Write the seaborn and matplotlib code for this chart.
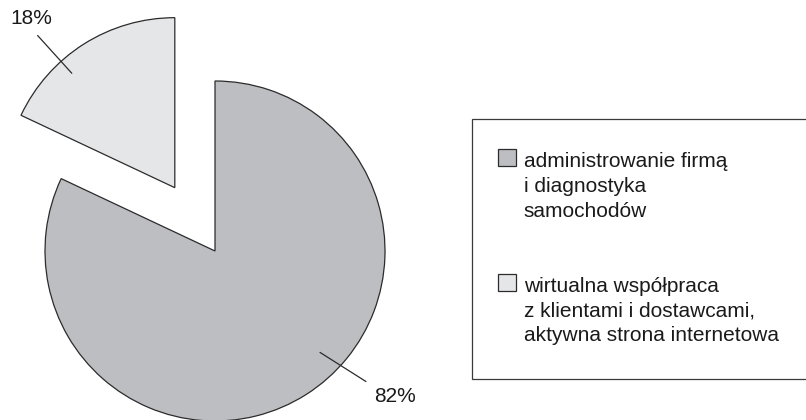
import numpy as np
import seaborn as sns
import matplotlib.pyplot as plt
from matplotlib.patches import Rectangle
from matplotlib.legend_handler import HandlerPatch

# dane
kategorie = ['administrowanie firmą\ni diagnostyka\nsamochodów',
             'wirtualna współpraca\nz klientami i dostawcami,\naktywna strona internetowa']
udzialy = [82, 18]
etykiety = ['82%', '18%']
kolory = ['#bdbec1', '#e5e6e8']

sns.set_theme(style='white')
plt.rcParams['font.family'] = ['Liberation Sans', 'DejaVu Sans']

ROZMIAR = 15
KROK = 1.38  # odstep linii w legendzie


class PierwszaLinia(HandlerPatch):
    # kwadrat legendy na wysokosci pierwszej linii opisu
    def __init__(self, linie, **kw):
        super().__init__(**kw)
        self.linie = linie

    def create_artists(self, legend, orig_handle, xdescent, ydescent,
                       width, height, fontsize, trans):
        przes = (self.linie - 1) / 2 * 1.39 * fontsize
        p = Rectangle((-xdescent - 5, -ydescent + przes), width, height)
        self.update_prop(p, orig_handle, legend)
        p.set_transform(trans)
        return [p]


fig = plt.figure(figsize=(8.06, 4.2), dpi=100)
ax = fig.add_axes([0, 0, 1, 1])

wedges, _ = ax.pie(udzialy, center=(215, 169), radius=170, startangle=90,
                   counterclock=False, explode=[0, 75],
                   colors=kolory,
                   wedgeprops=dict(edgecolor='#2b2b2b', linewidth=0.9))
ax.set_xlim(0, 806)
ax.set_ylim(0, 420)
ax.set_aspect('equal')
ax.axis('off')


def punkt(w, kat, r):
    cx, cy = w.center
    a = np.deg2rad(kat)
    return cx + r * np.cos(a), cy + r * np.sin(a)


# 82%
ax.annotate(etykiety[0], xy=punkt(wedges[0], -44, 146), xytext=punkt(wedges[0], -38.9, 231),
            ha='center', va='center', fontsize=ROZMIAR, color='#1a1a1a',
            arrowprops=dict(arrowstyle='-', color='#2b2b2b', lw=0.9,
                            relpos=(0, 1), shrinkA=4, shrinkB=0))
# 18%
ax.annotate(etykiety[1], xy=punkt(wedges[1], 132, 154), xytext=punkt(wedges[1], 130.4, 222),
            ha='center', va='center', fontsize=ROZMIAR, color='#1a1a1a',
            arrowprops=dict(arrowstyle='-', color='#2b2b2b', lw=0.9,
                            relpos=(0.5, 0), shrinkA=4, shrinkB=0))

leg = fig.legend(wedges, kategorie, loc='upper left',
                 bbox_to_anchor=(471.7 / 806, 0, 0.5, 1 - 119 / 420),
                 mode='expand', borderaxespad=0, fancybox=False,
                 frameon=True, edgecolor='#3a3a3a', framealpha=1,
                 fontsize=ROZMIAR, handlelength=0.87, handleheight=0.87,
                 handletextpad=0.02, labelspacing=2.7, borderpad=1.6,
                 handler_map={w: PierwszaLinia(3) for w in wedges})
leg.get_frame().set_linewidth(0.9)
for t in leg.get_texts():
    t.set_linespacing(KROK)
    t.set_color('#1a1a1a')

plt.savefig('out.png', dpi=100)
